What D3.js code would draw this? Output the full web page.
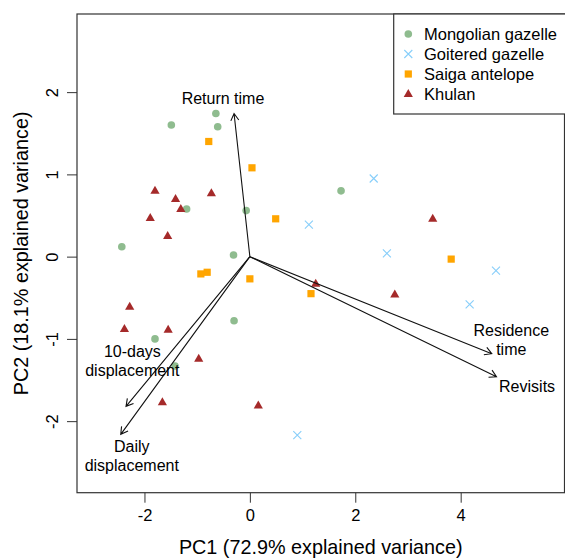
<!DOCTYPE html>
<html>
<head>
<meta charset="utf-8">
<script src="https://cdn.jsdelivr.net/npm/d3@7"></script>
<style>
  body { margin: 0; background: #fff; }
  text { font-family: "Liberation Sans", Arial, sans-serif; fill: #000; }
</style>
</head>
<body>
<svg id="chart" width="565" height="560"></svg>
<script>
// PCA scores per species
const mongolianX = [-1.49, -0.645, -0.61, -1.20, -0.07, -2.43, -0.31, 1.73, -1.80, -0.30, -1.42];
const mongolianY = [1.60, 1.74, 1.58, 0.58, 0.56, 0.12, 0.02, 0.80, -1.00, -0.78, -1.33];
const goiteredX = [2.35, 1.12, 2.60, 4.67, 4.17, 0.90];
const goiteredY = [0.95, 0.39, 0.04, -0.17, -0.58, -2.17];
const saigaX = [-0.78, 0.04, 0.49, -0.93, -0.81, 0.0, 3.82, 1.16];
const saigaY = [1.40, 1.08, 0.46, -0.21, -0.19, -0.27, -0.03, -0.45];
const khulanX = [-1.80, -1.41, -1.31, -0.73, -1.89, -1.56, 3.47, -2.28, -2.38, -1.55, -0.97, -1.66, 0.16, 1.25, 2.75];
const khulanY = [0.80, 0.70, 0.58, 0.77, 0.47, 0.25, 0.46, -0.61, -0.88, -0.89, -1.24, -1.77, -1.81, -0.33, -0.46];

// loadings (arrow tips) and where their labels sit, in PC units
const loadingNames = [["Return time"], ["10-days", "displacement"], ["Daily", "displacement"], ["Residence", "time"], ["Revisits"]];
const loadingX = [-0.30, -2.35, -2.45, 4.59, 4.68];
const loadingY = [1.74, -1.82, -2.16, -1.18, -1.46];
const labelX = [-0.51, -2.23, -2.24, 4.96, 5.26];
const labelY = [1.92, -1.27, -2.42, -1.01, -1.58];

const xTicks = [-2, 0, 2, 4];
const yTicks = [-2, -1, 0, 1, 2];

const species = [
    {name: "Mongolian gazelle", xs: mongolianX, ys: mongolianY, shape: "circle", color: "#8FBC8F"},
    {name: "Goitered gazelle", xs: goiteredX, ys: goiteredY, shape: "cross", color: "#87CEFA"},
    {name: "Saiga antelope", xs: saigaX, ys: saigaY, shape: "square", color: "#FFA500"},
    {name: "Khulan", xs: khulanX, ys: khulanY, shape: "triangle", color: "#A52A2A"}
];

const svg = d3.select("#chart");
const mLeft = 77, mRight = 564.5, mTop = 14, mBottom = 492.7;

const x = d3.scaleLinear().domain([-3.28, 5.97]).range([mLeft, mRight]);
const y = d3.scaleLinear().domain([-2.87, 2.95]).range([mBottom, mTop]);

// axes
const minusFmt = d => d < 0 ? "-" + Math.abs(d) : String(d);
const xAxis = svg.append("g")
    .attr("transform", "translate(0," + mBottom + ")")
    .call(d3.axisBottom(x).tickValues(xTicks).tickSize(10).tickPadding(7).tickFormat(minusFmt));
const yAxis = svg.append("g")
    .attr("transform", "translate(" + mLeft + ",0)")
    .call(d3.axisLeft(y).tickValues(yTicks).tickSize(10).tickPadding(6).tickFormat(minusFmt));
[xAxis, yAxis].forEach(a => {
    a.select(".domain").remove();
    a.selectAll("line").attr("stroke", "#333");
    a.selectAll("text").attr("font-size", "16.5px")
        .attr("fill", "#000")
        .style("font-family", "'Liberation Sans', Arial, sans-serif");
});
// R style: y tick labels parallel to the axis
yAxis.selectAll(".tick text")
    .attr("x", null).attr("dy", null)
    .attr("text-anchor", "middle")
    .attr("transform", "translate(-25,0) rotate(-90)")
    .attr("dominant-baseline", "central");

// box
svg.append("rect")
    .attr("x", mLeft).attr("y", mTop)
    .attr("width", mRight - mLeft).attr("height", mBottom - mTop)
    .attr("fill", "none").attr("stroke", "#333").attr("stroke-width", 1.2);

// axis titles
svg.append("text")
    .attr("x", (mLeft + mRight) / 2).attr("y", 554)
    .attr("text-anchor", "middle").attr("font-size", "19.8px")
    .text("PC1 (72.9% explained variance)");
svg.append("text")
    .attr("transform", "translate(" + 28 + "," + (mTop + mBottom) / 2 + ") rotate(-90)")
    .attr("text-anchor", "middle").attr("font-size", "19.8px")
    .text("PC2 (18.1% explained variance)");

// markers
function drawMarker(g, shape, color) {
    if (shape === "circle") {
        g.append("circle").attr("r", 3.8).attr("fill", color);
    } else if (shape === "square") {
        g.append("rect").attr("x", -3.6).attr("y", -3.6).attr("width", 7.2).attr("height", 7.2).attr("fill", color);
    } else if (shape === "triangle") {
        g.append("path").attr("d", "M0,-5L4.6,3L-4.6,3Z").attr("fill", color);
    } else {
        g.append("path").attr("d", "M-4,-4L4,4M-4,4L4,-4").attr("stroke", color).attr("stroke-width", 1.1).attr("fill", "none");
    }
}

const pts = svg.append("g");
species.forEach(s => {
    s.xs.forEach((v, i) => {
        const g = pts.append("g").attr("transform", "translate(" + x(v) + "," + y(s.ys[i]) + ")");
        drawMarker(g, s.shape, s.color);
    });
});

// loadings arrows
const arrows = svg.append("g").attr("stroke", "#111").attr("stroke-width", 1.1).attr("fill", "none");
const x0 = x(0), y0 = y(0), headLen = 8, headAng = Math.PI / 6;
loadingX.forEach((lx, i) => {
    const x1 = x(lx), y1 = y(loadingY[i]);
    const ang = Math.atan2(y1 - y0, x1 - x0);
    arrows.append("path").attr("d",
        "M" + x0 + "," + y0 + "L" + x1 + "," + y1 +
        "M" + (x1 - headLen * Math.cos(ang - headAng)) + "," + (y1 - headLen * Math.sin(ang - headAng)) +
        "L" + x1 + "," + y1 +
        "L" + (x1 - headLen * Math.cos(ang + headAng)) + "," + (y1 - headLen * Math.sin(ang + headAng)));
});

// loadings labels
loadingNames.forEach((lines, i) => {
    const t = svg.append("text")
        .attr("text-anchor", "middle").attr("font-size", "16px")
        .attr("x", x(labelX[i])).attr("y", y(labelY[i]));
    const off = (lines.length - 1) * 19.5 / 2;
    lines.forEach((ln, j) => {
        t.append("tspan").attr("x", x(labelX[i]))
            .attr("y", y(labelY[i]) - off + j * 19.5)
            .attr("dy", "0.35em").text(ln);
    });
});

// legend
const lg = svg.append("g");
lg.append("rect").attr("x", 393.7).attr("y", mTop).attr("width", 180).attr("height", 114 - mTop)
    .attr("fill", "#fff").attr("stroke", "#333").attr("stroke-width", 1.2);
species.forEach((s, i) => {
    const yy = 34 + i * 20;
    const g = lg.append("g").attr("transform", "translate(408.3," + yy + ")");
    drawMarker(g, s.shape, s.color);
    lg.append("text").attr("x", 424).attr("y", yy).attr("dy", "0.35em")
        .attr("font-size", "16.5px").text(s.name);
});
</script>
</body>
</html>
